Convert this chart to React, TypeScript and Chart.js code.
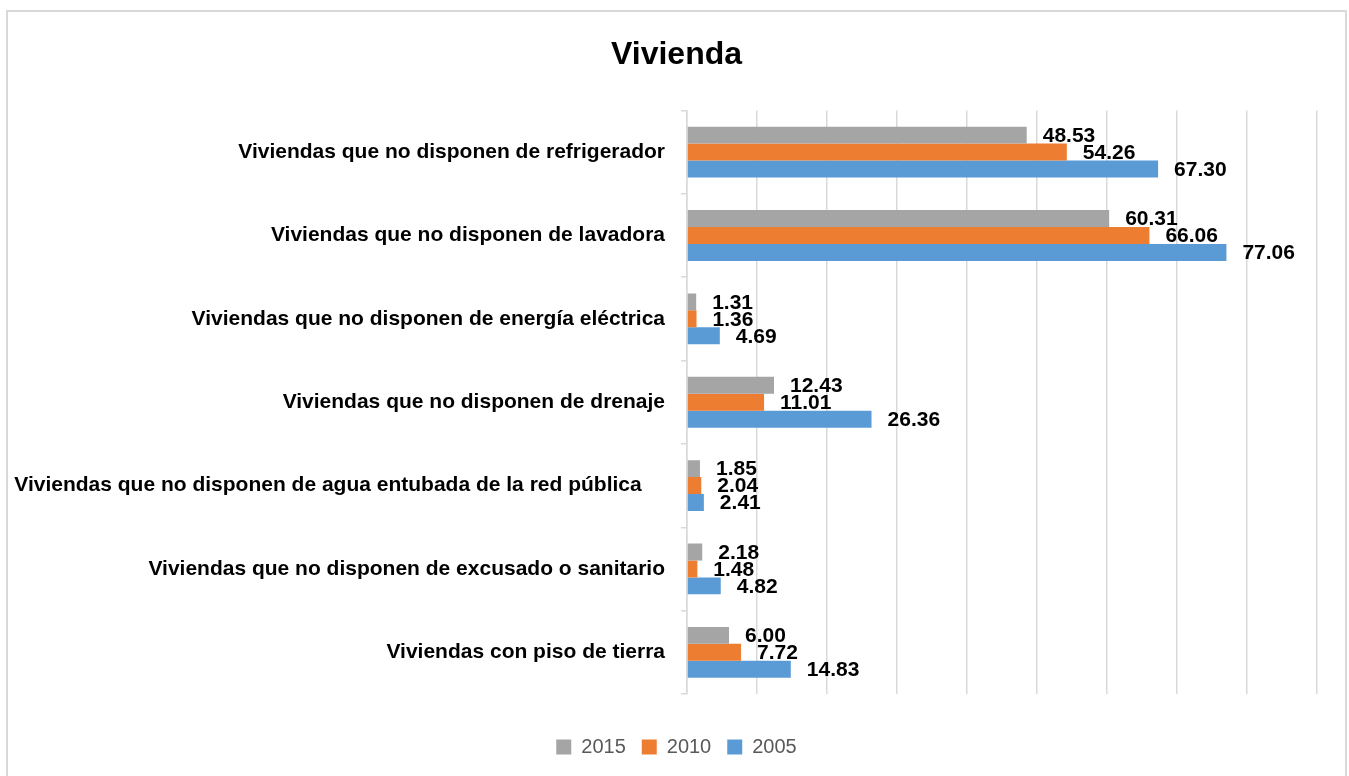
import { useEffect, useRef } from 'react';
import { Chart, registerables } from 'chart.js';

Chart.register(...registerables);

const categories = [
  'Viviendas que no disponen de refrigerador',
  'Viviendas que no disponen de lavadora',
  'Viviendas que no disponen de energía eléctrica',
  'Viviendas que no disponen de drenaje',
  'Viviendas que no disponen de agua entubada de la red pública    ',
  'Viviendas que no disponen de excusado o sanitario',
  'Viviendas con piso de tierra',
];

const values2015 = [48.53, 60.31, 1.31, 12.43, 1.85, 2.18, 6.0];
const values2010 = [54.26, 66.06, 1.36, 11.01, 2.04, 1.48, 7.72];
const values2005 = [67.3, 77.06, 4.69, 26.36, 2.41, 4.82, 14.83];

const seriesLabels = ['2015', '2010', '2005'];
const seriesColors = ['#a5a5a5', '#ed7d31', '#5b9bd5'];

const axisMin = 0;
const axisMax = 90;
const axisStep = 10;

const FONT = '"Liberation Sans", Arial, sans-serif';

const valueLabels = {
  id: 'valueLabels',
  afterDatasetsDraw(chart: any) {
    const ctx = chart.ctx;
    ctx.save();
    ctx.font = `bold 21px ${FONT}`;
    ctx.fillStyle = '#000000';
    ctx.textAlign = 'left';
    ctx.textBaseline = 'middle';
    chart.data.datasets.forEach((ds: any, i: number) => {
      const meta = chart.getDatasetMeta(i);
      meta.data.forEach((el: any, j: number) => {
        const v = ds.data[j] as number;
        ctx.fillText(v.toFixed(2), el.x + 16, el.y + 1);
      });
    });
    ctx.restore();
  },
};

export default function App() {
  const canvasRef = useRef<HTMLCanvasElement | null>(null);

  useEffect(() => {
    if (!canvasRef.current) return;
    const seriesData = [values2015, values2010, values2005];
    const chart = new Chart(canvasRef.current, {
      type: 'bar',
      data: {
        labels: categories,
        datasets: seriesLabels.map((label, i) => ({
          label,
          data: seriesData[i],
          backgroundColor: seriesColors[i],
          borderWidth: 0,
          barPercentage: 1,
          categoryPercentage: 0.61,
        })),
      },
      options: {
        indexAxis: 'y',
        responsive: false,
        animation: false,
        layout: { padding: { left: 0, right: 0, top: 0, bottom: 9 } },
        scales: {
          x: {
            min: axisMin,
            max: axisMax,
            ticks: { display: false, stepSize: axisStep },
            grid: { color: '#d9d9d9', lineWidth: 1.5, drawTicks: false },
            border: { display: false },
            afterFit: (s: any) => {
              s.height = 27;
            },
          },
          y: {
            grid: {
              display: true,
              drawOnChartArea: false,
              drawTicks: true,
              tickLength: 6,
              color: '#d9d9d9',
              lineWidth: 1.5,
            },
            border: { display: true, color: '#d9d9d9', width: 1.5 },
            ticks: {
              color: '#000000',
              padding: 16,
              autoSkip: false,
              font: { family: FONT, size: 21, weight: 'bold' },
            },
            afterFit: (s: any) => {
              s.width = 679;
            },
          },
          pad: {
            type: 'linear',
            position: 'right',
            display: true,
            grid: { display: false },
            ticks: { display: false },
            border: { display: false },
            afterFit: (s: any) => {
              s.width = 28;
            },
          },
        },
        plugins: {
          title: {
            display: true,
            text: 'Vivienda',
            color: '#000000',
            font: { family: FONT, size: 32, weight: 'bold' },
            padding: { top: 24, bottom: 36 },
          },
          legend: {
            display: true,
            position: 'bottom',
            labels: {
              boxWidth: 15,
              boxHeight: 15,
              padding: 16,
              color: '#595959',
              font: { family: FONT, size: 20 },
            },
          },
          tooltip: { enabled: false },
        },
      } as any,
      plugins: [valueLabels],
    });
    return () => chart.destroy();
  }, []);

  return (
    <div
      style={{
        position: 'absolute',
        left: 6,
        top: 10,
        width: 1337,
        height: 764,
        borderTop: '2px solid #d9d9d9',
        borderLeft: '2px solid #d9d9d9',
        borderRight: '2px solid #d9d9d9',
        background: '#ffffff',
      }}
    >
      <canvas ref={canvasRef} width={1337} height={764} style={{ display: 'block' }} />
    </div>
  );
}
